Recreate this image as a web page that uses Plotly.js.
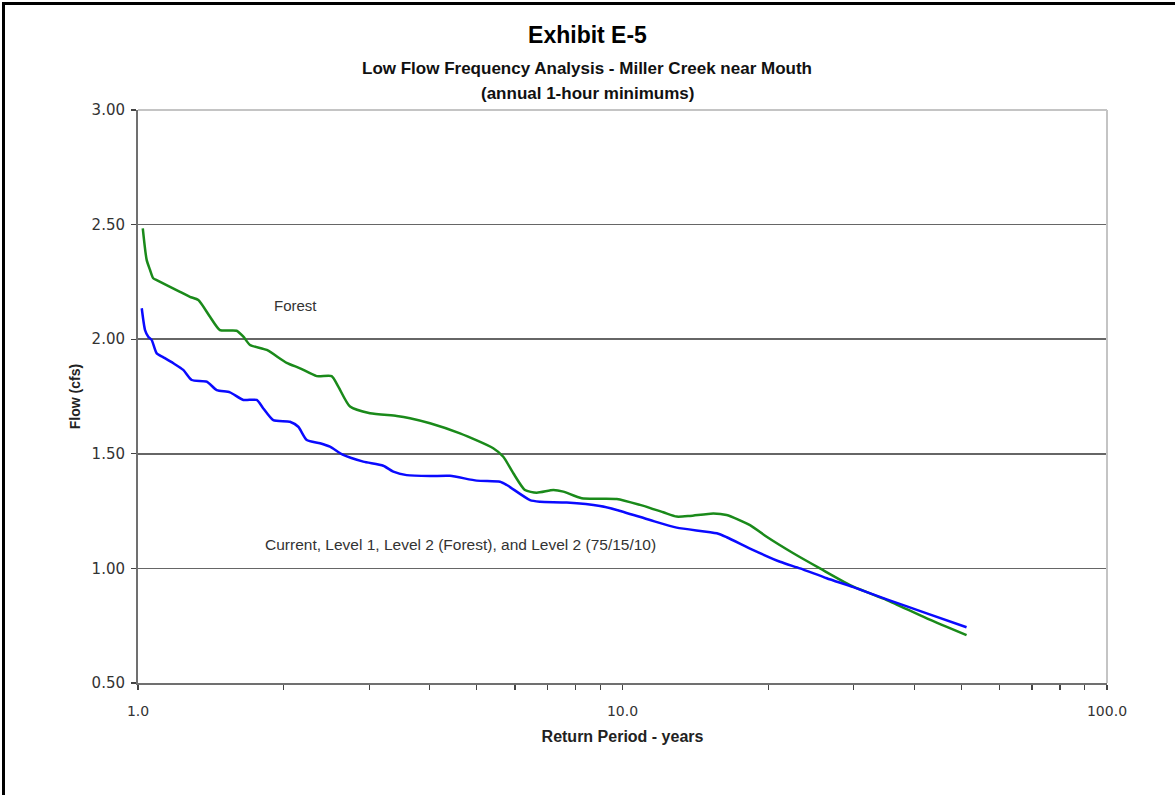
<!DOCTYPE html>
<html>
<head>
<meta charset="utf-8">
<script src="https://cdn.plot.ly/plotly-3.0.1.min.js"></script>
<style>
  html, body { margin: 0; padding: 0; overflow: hidden; background: #fff; }
  #wrap { position: relative; width: 1175px; height: 795px; overflow: hidden; }
  #chart { position: absolute; left: 0; top: 0; width: 1175px; height: 795px; }
  #frame { position: absolute; left: 2px; top: 2px; width: 1200px; height: 820px;
           border-top: 3px solid #000; border-left: 3px solid #000; pointer-events: none; }
</style>
</head>
<body>
<div id="wrap"><div id="chart"></div><div id="frame"></div></div>
<script>
// Return period (years) and flow (cfs)
const forestT = [1.023, 1.042, 1.059, 1.075, 1.093, 1.221, 1.280, 1.332, 1.408, 1.476, 1.598, 1.650, 1.703, 1.844, 2.027, 2.160, 2.338, 2.510, 2.591, 2.739, 3.012, 3.420, 3.642, 4.006, 4.62, 5.41, 5.675, 5.952, 6.29, 6.65, 7.20, 7.55, 8.24, 9.73, 10.87, 12.14, 12.94, 13.78, 15.4, 16.4, 18.33, 19.84, 22.52, 25.56, 29.96, 35.11, 42.46, 51.3];
const forestQ = [2.484, 2.346, 2.302, 2.266, 2.258, 2.207, 2.185, 2.171, 2.098, 2.040, 2.037, 2.011, 1.975, 1.953, 1.897, 1.873, 1.839, 1.839, 1.793, 1.706, 1.677, 1.665, 1.655, 1.633, 1.589, 1.524, 1.487, 1.415, 1.342, 1.330, 1.342, 1.335, 1.306, 1.303, 1.277, 1.245, 1.226, 1.229, 1.240, 1.233, 1.189, 1.138, 1.066, 1.000, 0.920, 0.862, 0.782, 0.709];

const currentT = [1.018, 1.034, 1.050, 1.067, 1.093, 1.128, 1.183, 1.240, 1.291, 1.386, 1.454, 1.548, 1.650, 1.758, 1.814, 1.902, 2.059, 2.142, 2.230, 2.375, 2.490, 2.652, 2.917, 3.208, 3.365, 3.585, 4.006, 4.405, 5.003, 5.588, 5.768, 6.444, 6.757, 7.671, 8.986, 9.73, 11.40, 12.94, 15.65, 16.41, 18.62, 21.14, 23.25, 26.39, 29.96, 35.11, 42.46, 51.3];
const currentQ = [2.135, 2.040, 2.011, 1.997, 1.938, 1.921, 1.895, 1.866, 1.822, 1.815, 1.778, 1.768, 1.735, 1.735, 1.698, 1.647, 1.640, 1.618, 1.560, 1.546, 1.531, 1.495, 1.466, 1.448, 1.422, 1.407, 1.403, 1.404, 1.383, 1.378, 1.364, 1.298, 1.291, 1.287, 1.272, 1.255, 1.211, 1.178, 1.153, 1.136, 1.080, 1.029, 1.000, 0.957, 0.918, 0.865, 0.804, 0.743];

const xTickVals = [1,2,3,4,5,6,7,8,9,10,20,30,40,50,60,70,80,90,100];
const xTickText = ['1.0','','','','','','','','','10.0','','','','','','','','','100.0'];
const yTickVals = [0.5, 1.0, 1.5, 2.0, 2.5, 3.0];

const titleText = 'Exhibit E-5';
const subtitle1 = 'Low Flow Frequency Analysis - Miller Creek near Mouth';
const subtitle2 = '(annual 1-hour minimums)';
const forestLabel = 'Forest';
const currentLabel = 'Current, Level 1, Level 2 (Forest), and Level 2 (75/15/10)';

const traces = [
  { x: forestT, y: forestQ, type: 'scatter', mode: 'lines', name: 'Forest',
    line: { color: '#1a8a1a', width: 2.5, shape: 'spline', smoothing: 0.6 }, hoverinfo: 'x+y' },
  { x: currentT, y: currentQ, type: 'scatter', mode: 'lines', name: 'Current',
    line: { color: '#0a0aff', width: 2.5, shape: 'spline', smoothing: 0.6 }, hoverinfo: 'x+y' }
];

const layout = {
  width: 1175, height: 795,
  margin: { l: 138, r: 68, t: 110, b: 112 },
  paper_bgcolor: '#ffffff', plot_bgcolor: '#ffffff',
  showlegend: false,
  font: { family: 'Liberation Sans, Arial, sans-serif', color: '#222' },
  title: { text: '<b>' + titleText + '</b>', x: 0.5, xref: 'container', xanchor: 'center',
           y: 1 - 35/795, yref: 'container', yanchor: 'middle',
           font: { size: 23, color: '#000', family: 'Liberation Sans, Arial, sans-serif' } },
  xaxis: {
    type: 'log', range: [0, 2], tickvals: xTickVals, ticktext: xTickText,
    ticks: 'outside', ticklen: 5, tickcolor: '#444', tickwidth: 1.2,
    showgrid: false, zeroline: false,
    showline: true, linecolor: '#707070', linewidth: 2,
    ticklabelstandoff: 9,
    tickfont: { size: 14, color: '#333', family: 'DejaVu Sans, sans-serif' },
    title: { text: '<b>Return Period - years</b>', standoff: 13,
             font: { size: 16, color: '#222', family: 'Liberation Sans, Arial, sans-serif' } }
  },
  yaxis: {
    range: [0.5, 3.0], tickvals: yTickVals, tickformat: '.2f',
    ticks: 'outside', ticklen: 5, tickcolor: '#444', tickwidth: 1.2,
    showgrid: true, gridcolor: '#666666', gridwidth: 1.7,
    zeroline: false, showline: true, linecolor: '#707070', linewidth: 2,
    ticklabelstandoff: 3,
    tickfont: { size: 15, color: '#333', family: 'DejaVu Sans, sans-serif' },
    title: { text: '<b>Flow (cfs)</b>', standoff: 8,
             font: { size: 14, color: '#222', family: 'Liberation Sans, Arial, sans-serif' } }
  },
  shapes: [
    { type: 'line', xref: 'paper', yref: 'paper', x0: 0, x1: 1, y0: 1, y1: 1,
      line: { color: '#c4c4c4', width: 2 }, layer: 'above' },
    { type: 'line', xref: 'paper', yref: 'paper', x0: 1, x1: 1, y0: 0, y1: 1,
      line: { color: '#c4c4c4', width: 2 }, layer: 'above' }
  ],
  annotations: [
    { text: '<b>' + subtitle1 + '</b>', xref: 'paper', yref: 'paper',
      x: (587 - 138) / 969, y: (683 - 68) / 573, showarrow: false, xanchor: 'center', yanchor: 'middle',
      font: { size: 17, color: '#111' } },
    { text: '<b>' + subtitle2 + '</b>', xref: 'paper', yref: 'paper',
      x: (587 - 138) / 969, y: (683 - 93) / 573, showarrow: false, xanchor: 'center', yanchor: 'middle',
      font: { size: 17, color: '#111' } },
    { text: forestLabel, x: Math.log10(2.11), y: 2.149, showarrow: false,
      xanchor: 'center', yanchor: 'middle', font: { size: 15, color: '#333' } },
    { text: currentLabel, x: Math.log10(4.62), y: 1.103, showarrow: false,
      xanchor: 'center', yanchor: 'middle', font: { size: 15.5, color: '#333' } }
  ]
};

Plotly.newPlot('chart', traces, layout, { displayModeBar: false, staticPlot: true });
</script>
</body>
</html>
